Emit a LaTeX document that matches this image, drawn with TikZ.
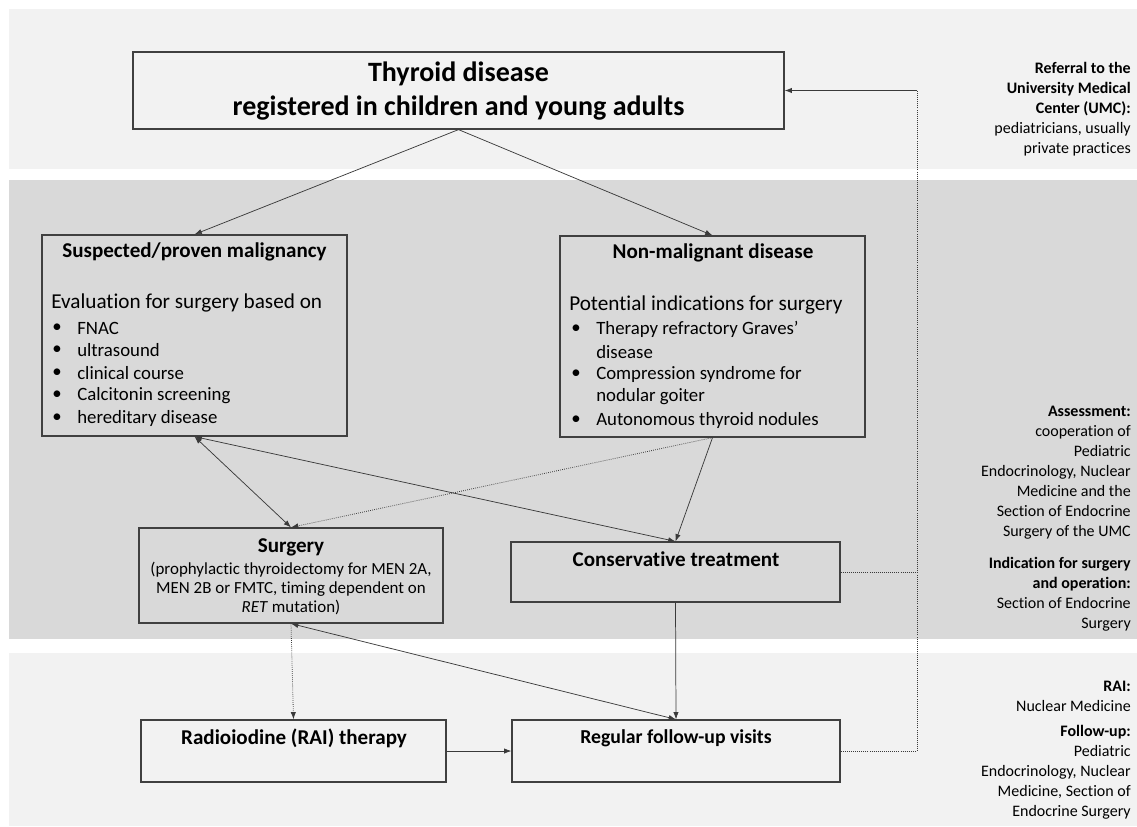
\documentclass[tikz,border=0pt]{standalone}
\usepackage{fontspec}
\setmainfont{Carlito}[Ligatures=NoCommon]
\usetikzlibrary{arrows.meta}
\definecolor{bandlight}{HTML}{F2F2F2}
\definecolor{banddark}{HTML}{D9D9D9}
\definecolor{bordc}{HTML}{404040}
\definecolor{linec}{HTML}{3A3A3A}
\newcommand\fBig{\fontsize{21}{26}\selectfont\bfseries}
\newcommand\fHead{\fontsize{15.8}{18}\selectfont\bfseries}
\newcommand\fLead{\fontsize{15.9}{18}\selectfont}
\newcommand\fItem{\fontsize{14.1}{16}\selectfont}
\newcommand\fSmall{\fontsize{12.7}{14.6}\selectfont}
\newcommand\fSide{\fontsize{12}{15}\selectfont}
\tikzset{
  box/.style={draw=bordc, line width=0.9pt, inner sep=0pt},
  txt/.style={inner sep=0pt, text=black},
  conn/.style={draw=linec, line width=0.55pt},
  arr/.style={-{Latex[length=5.5pt,width=4pt]}},
  both/.style={{Latex[length=5.5pt,width=4pt]}-{Latex[length=5.5pt,width=4pt]}},
  dots/.style={densely dotted, line width=0.6pt},
}
\begin{document}
\begin{tikzpicture}[x=0.75pt,y=-0.75pt]
\useasboundingbox (0,0) rectangle (1137,826);
\fill[white] (0,0) rectangle (1137,826);
% bands
\fill[bandlight] (9,9) rectangle (1137,169);
\fill[banddark] (9,180) rectangle (1137,639);
\fill[bandlight] (9,653) rectangle (1137,826);

% boxes
\node[box, minimum width=488.25pt, minimum height=57.75pt] (thy) at (458.5,90.5) {};
\node[box, minimum width=228.75pt, minimum height=150.75pt] (sus) at (194.5,335.5) {};
\node[box, minimum width=228.75pt, minimum height=150.75pt] (non) at (712.5,336.5) {};
\node[box, minimum width=228pt, minimum height=71.25pt] (sur) at (291,575.5) {};
\node[box, minimum width=246.75pt, minimum height=45pt] (con) at (675.5,572) {};
\node[box, minimum width=228.75pt, minimum height=46.5pt] (rai) at (293.5,751) {};
\node[box, minimum width=246pt, minimum height=46.5pt] (fol) at (676,751) {};

% texts in boxes
\node[txt, align=center, font=\fBig] (thyt) at (458.5,91) {Thyroid disease\\registered in children and young adults};

\node[txt, font=\fHead] (sust) at (194.5,252) {Suspected/proven malignancy};
\node[txt, font=\fLead, anchor=west] (susl) at (51,303) {Evaluation for surgery based on};
\foreach \yy/\tt [count=\i] in {328/FNAC, 350.5/ultrasound, 373/clinical course, 395.5/Calcitonin screening, 418/hereditary disease}{
  \node[txt, font=\fItem, anchor=west] (susb\i) at (52,\yy) {•};
  \node[txt, font=\fItem, anchor=west] (susi\i) at (77,\yy) {\tt};
}

\node[txt, font=\fHead] (nont) at (713,253) {Non-malignant disease};
\node[txt, font=\fLead, anchor=west] (nonl) at (569,305) {Potential indications for surgery};
\foreach \yy in {329,374.5,420}{
  \node[txt, font=\fItem, anchor=west] at (571,\yy) {•};
}
\node[txt, font=\fItem, anchor=west] (noni1) at (596,329) {Therapy refractory Graves’};
\node[txt, font=\fItem, anchor=west] (noni2) at (596,352) {disease};
\node[txt, font=\fItem, anchor=west] (noni3) at (596,374.5) {Compression syndrome for};
\node[txt, font=\fItem, anchor=west] (noni4) at (596,397) {nodular goiter};
\node[txt, font=\fItem, anchor=west] (noni5) at (596,420) {Autonomous thyroid nodules};

\node[txt, font=\fHead] (surt) at (291,547) {Surgery};
\node[txt, font=\fSmall, align=center] (surb) at (291,588.5) {(prophylactic thyroidectomy for MEN 2A,\\MEN 2B or FMTC, timing dependent on\\\textit{RET} mutation)};

\node[txt, font=\fHead] (cont) at (676,559) {Conservative treatment};
\node[txt, font=\fHead] (rait) at (294,738) {Radioiodine (RAI) therapy};
\node[txt, font=\fontsize{14.8}{18}\selectfont\bfseries] (folt) at (676,738) {Regular follow-up visits};

% side texts
\node[txt, font=\fSide, align=right, anchor=east] (s1) at (1131,109.5)
  {\textbf{Referral to the}\\\textbf{University Medical}\\\textbf{Center (UMC):}\\pediatricians, usually\\private practices};
\node[txt, font=\fSide, align=right, anchor=east] (s2) at (1131,472.5)
  {\textbf{Assessment:}\\cooperation of\\Pediatric\\Endocrinology, Nuclear\\Medicine and the\\Section of Endocrine\\Surgery of the UMC};
\node[txt, font=\fSide, align=right, anchor=east] (s3) at (1131,594)
  {\textbf{Indication for surgery}\\\textbf{and operation:}\\Section of Endocrine\\Surgery};
\node[txt, font=\fSide, align=right, anchor=east] (s4) at (1131,696.5)
  {\textbf{RAI:}\\Nuclear Medicine};
\node[txt, font=\fSide, align=right, anchor=east] (s5) at (1131,772.5)
  {\textbf{Follow-up:}\\Pediatric\\Endocrinology, Nuclear\\Medicine, Section of\\Endocrine Surgery};

% connectors
\draw[conn, arr] (thy.south) -- (sus.north);
\draw[conn, arr] (thy.south) -- (non.north);
\draw[conn, both] (sus.south) -- (sur.north);
\draw[conn, both] (sus.south) -- (con.north);
\draw[conn, dots, arr] (non.south) -- (sur.north);
\draw[conn, arr] (non.south) -- (con.north);
\draw[conn, both] (sur.south) -- (fol.north);
\draw[conn, dots, arr] (sur.south) -- (rai.north);
\draw[conn, arr] (con.south) -- (fol.north);
\draw[conn, arr] (rai.east) -- (fol.west);

\coordinate (fb1) at (917,751);
\coordinate (fb2) at (917,90.5);
\coordinate (fb3) at (917,572);
\draw[conn, dots] (fol.east) -- (fb1) -- (fb2);
\draw[conn, dots] (con.east) -- (fb3);
\draw[conn, arr] (fb2) -- (thy.east);
\end{tikzpicture}
\end{document}
